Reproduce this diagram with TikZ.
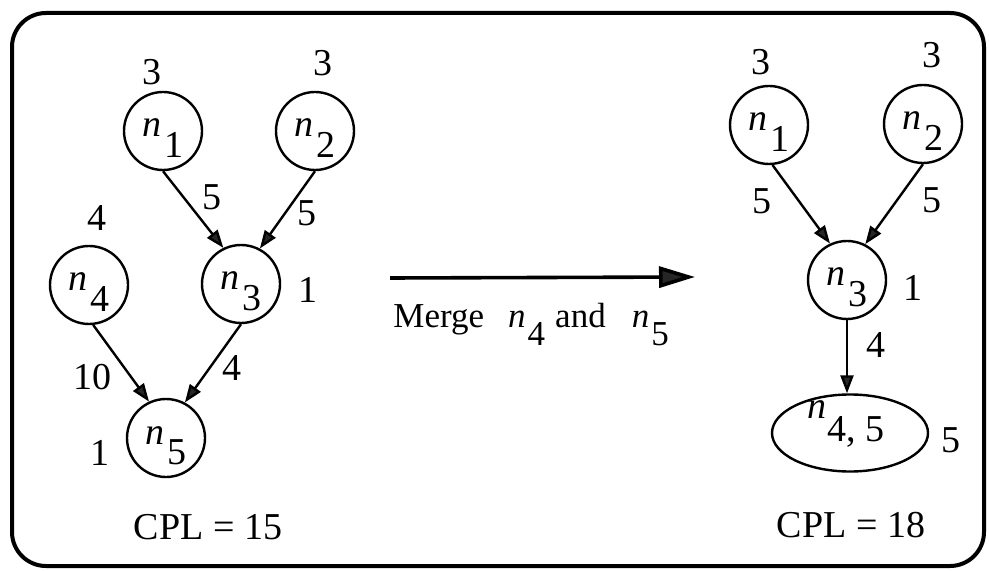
\documentclass[tikz,border=0pt]{standalone}
\usepackage{fontspec}
\setmainfont{Liberation Serif}
\usetikzlibrary{shapes.geometric,arrows.meta}
\newcommand{\nodesub}[1]{\textit{n}\kern0.06em\raisebox{-0.55em}{#1}}
\begin{document}
\begin{tikzpicture}[x=0.5pt,y=-0.5pt,
  vert/.style={circle,draw,line width=1.2pt,minimum size=39pt,inner sep=0pt,text height=14pt,text depth=8pt,font=\fontsize{19}{22}\selectfont},
  merged/.style={ellipse,draw,line width=1.2pt,minimum width=78pt,minimum height=38.5pt,inner sep=0pt},
  ntext/.style={inner sep=0pt,font=\fontsize{19}{22}\selectfont},
  lab/.style={inner sep=0pt,font=\fontsize{19}{22}\selectfont},
  cpl/.style={inner sep=0pt,font=\fontsize{19}{22}\selectfont},
  edgearrow/.style={line width=1.2pt,-{Triangle[length=9pt,width=6.5pt,fill=black!85]}},
  bigarrow/.style={line width=1.8pt,-{Triangle[length=18pt,width=10.5pt,fill=black!85]}}
]
\useasboundingbox (0,0) rectangle (989,571);
\draw[line width=2pt,rounded corners=17pt] (12,13) rectangle (984,566);

% left graph
\node[vert] (n1) at (163,131) {\nodesub{1}};
\node[vert] (n2) at (315,131) {\nodesub{2}};
\node[vert] (n3) at (241,284) {\nodesub{3}};
\node[vert] (n4) at (89,285) {\nodesub{4}};
\node[vert] (n5) at (166,438) {\nodesub{5}};
\node[lab] (w1) at (152,72) {3};
\node[lab] (w2) at (323,63) {3};
\node[lab] (w4) at (97,218) {4};
\node[lab] (w3) at (308,290) {1};
\node[lab] (w5) at (100,453) {1};
\node[lab] (e13) at (212,197) {5};
\node[lab] (e23) at (307,213) {5};
\node[lab] (e45) at (92,377) {10};
\node[lab] (e35) at (232,368) {4};
\node[cpl] (cplA) at (208,527) {CPL = 15};
\draw[edgearrow] (n1.south) -- (n3.116);
\draw[edgearrow] (n2.south) -- (n3.62);
\draw[edgearrow] (n4.-84) -- (n5.115);
\draw[edgearrow] (n3.south) -- (n5.62);

% transformation arrow
\coordinate (a1) at (390,278);
\coordinate (a2) at (695,277);
\draw[bigarrow] (a1) -- (a2);
\node[inner sep=0pt,anchor=base west,font=\fontsize{17.5}{20}\selectfont] (merge) at (393,328)
  {Merge\hspace{12pt}\textit{n}\kern0.06em\raisebox{-0.5em}{4}\hspace{5pt}and\hspace{13pt}\textit{n}\kern0.06em\raisebox{-0.5em}{5}};

% right graph
\node[vert] (m1) at (769,125) {\nodesub{1}};
\node[vert] (m2) at (923,124) {\nodesub{2}};
\node[vert] (m3) at (847,280) {\nodesub{3}};
\node[merged] (m45) at (850,433) {};
\node[ntext] (m45t) at (846,424) {\textit{n}\kern0.02em\raisebox{-0.6em}{4, 5}};
\node[lab] (v1) at (761,62) {3};
\node[lab] (v2) at (932,55) {3};
\node[lab] (v3) at (913,288) {1};
\node[lab] (v45) at (951,440) {5};
\node[lab] (f13) at (762,201) {5};
\node[lab] (f23) at (932,200) {5};
\node[lab] (f345) at (876,345) {4};
\node[cpl] (cplB) at (851,525) {CPL = 18};
\draw[edgearrow] (m1.-85) -- (m3.115);
\draw[edgearrow] (m2.south) -- (m3.63);
\draw[edgearrow] (m3.south) -- (m3.south |- m45.north);
\end{tikzpicture}
\end{document}
